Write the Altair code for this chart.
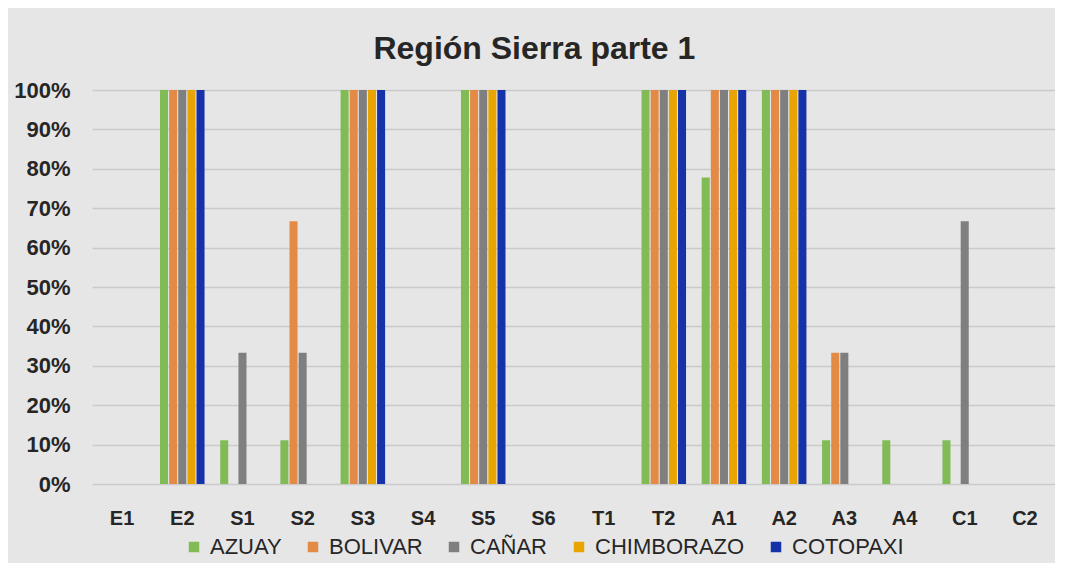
import altair as alt
import pandas as pd

categories = ["E1", "E2", "S1", "S2", "S3", "S4", "S5", "S6", "T1", "T2",
              "A1", "A2", "A3", "A4", "C1", "C2"]
series = ["AZUAY", "BOLIVAR", "CAÑAR", "CHIMBORAZO", "COTOPAXI"]
colors = ["#80BB56", "#E38B46", "#7F7F7F", "#E8A502", "#1632A8"]

azuay      = [0, 1, 0.111, 0.111, 1, 0, 1, 0, 0, 1, 0.778, 1, 0.111, 0.111, 0.111, 0]
bolivar    = [0, 1, 0, 0.667, 1, 0, 1, 0, 0, 1, 1, 1, 0.333, 0, 0, 0]
canar      = [0, 1, 0.333, 0.333, 1, 0, 1, 0, 0, 1, 1, 1, 0.333, 0, 0.667, 0]
chimborazo = [0, 1, 0, 0, 1, 0, 1, 0, 0, 1, 1, 1, 0, 0, 0, 0]
cotopaxi   = [0, 1, 0, 0, 1, 0, 1, 0, 0, 1, 1, 1, 0, 0, 0, 0]

values = [azuay, bolivar, canar, chimborazo, cotopaxi]
rows = []
for s, vals in zip(series, values):
    for c, v in zip(categories, vals):
        rows.append({"cat": c, "prov": s, "val": v})
df = pd.DataFrame(rows)

FONT = "Liberation Sans, Arial, sans-serif"

chart = alt.Chart(df).mark_bar().encode(
    x=alt.X("cat:N", sort=categories, title=None,
            scale=alt.Scale(paddingInner=0.26, paddingOuter=0.13),
            axis=alt.Axis(labelAngle=0, labelFontSize=20, labelFontWeight="bold",
                          labelColor="#262626", labelPadding=24, ticks=False,
                          domain=False, labelFont=FONT)),
    xOffset=alt.XOffset("prov:N", sort=series,
                        scale=alt.Scale(paddingInner=0.12, paddingOuter=0)),
    y=alt.Y("val:Q", title=None,
            scale=alt.Scale(domain=[0, 1]),
            axis=alt.Axis(format=".0%", values=[i / 10 for i in range(11)],
                          labelFontSize=22, labelFontWeight="bold",
                          labelColor="#262626", labelPadding=22, ticks=False,
                          domain=False, gridColor="#CACACA", gridWidth=1.5,
                          labelFont=FONT)),
    color=alt.Color("prov:N", sort=series,
                    scale=alt.Scale(domain=series, range=colors),
                    legend=alt.Legend(title=None, orient="none", direction="horizontal",
                                      legendX=91, legendY=446,
                                      symbolType="square", symbolSize=110,
                                      symbolStrokeWidth=0, labelFontSize=22,
                                      labelColor="#262626", labelFont=FONT,
                                      labelOffset=5, columnPadding=20)),
).properties(
    width=963,
    height=394,
    title=alt.TitleParams("Región Sierra parte 1", fontSize=32, fontWeight="bold",
                          color="#262626", font=FONT, frame="bounds",
                          anchor="middle", offset=13),
    padding={"left": 5, "top": 25, "right": 0, "bottom": 5},
    background="#E6E6E6",
).configure_view(stroke=None)

chart.save("out.html", embed_options={"renderer": "svg", "actions": False})
